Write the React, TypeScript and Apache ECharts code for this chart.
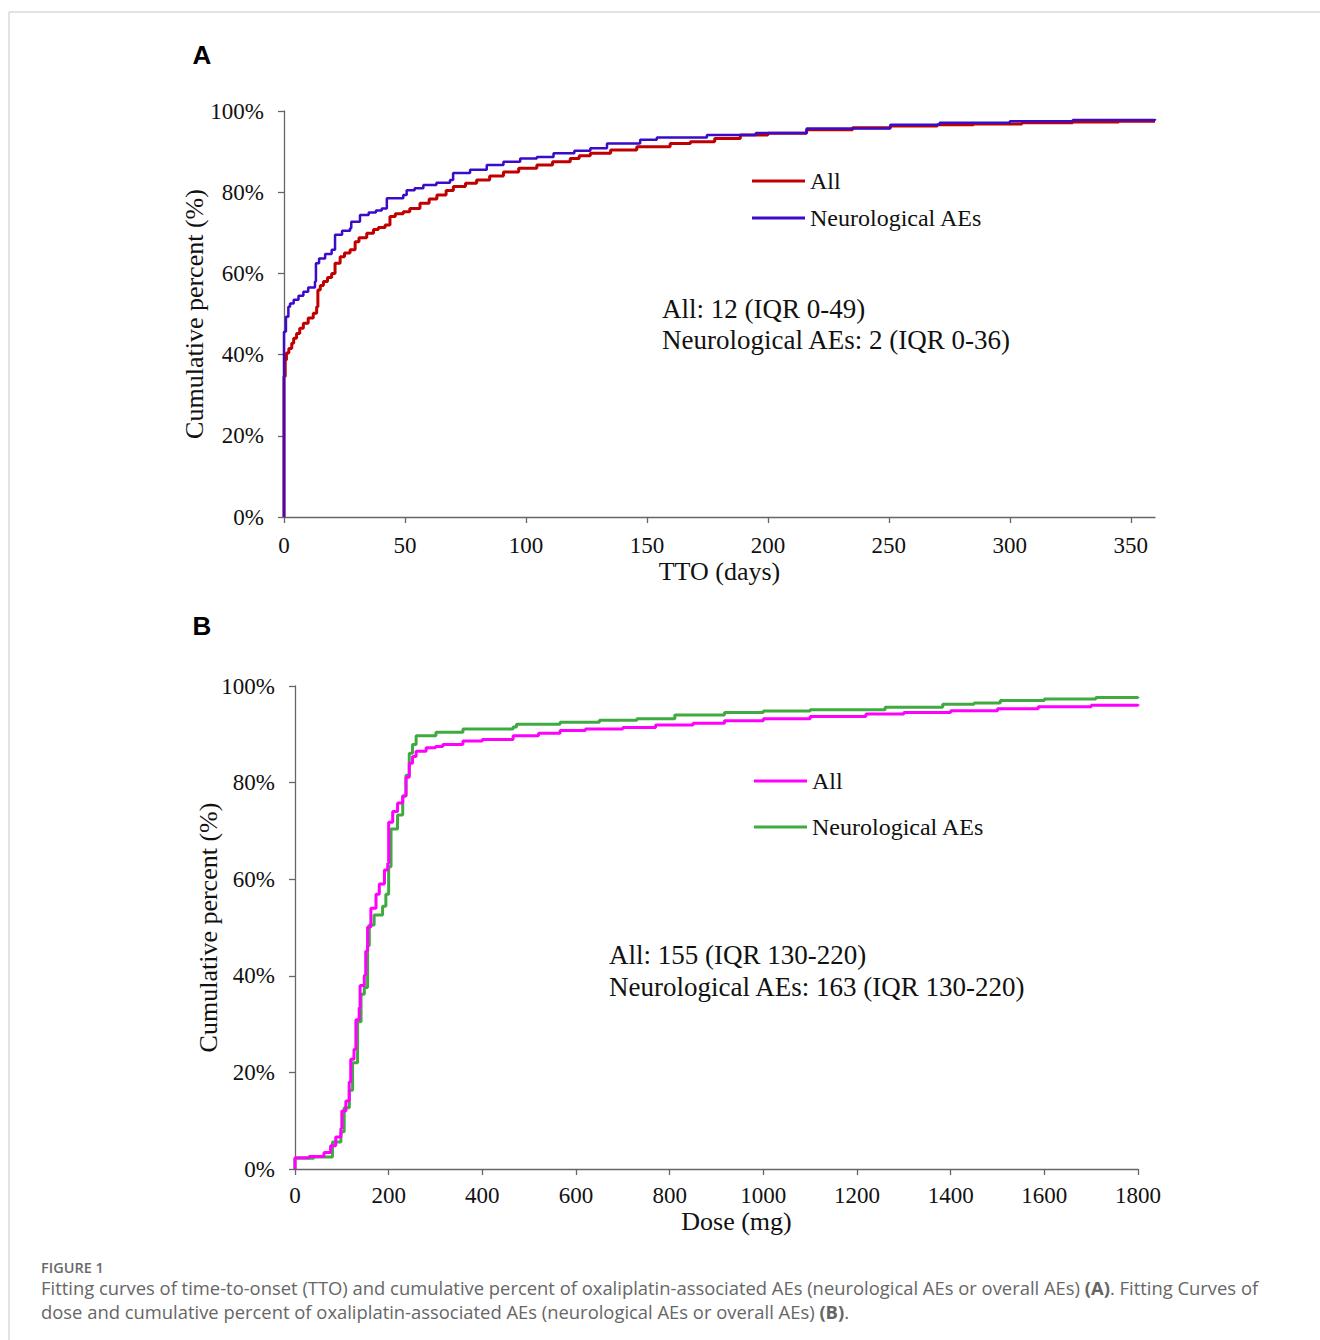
import React, { useEffect, useRef } from "react";
import * as echarts from "echarts";

// ---------- Data ----------
const PCT_TICKS = [0, 20, 40, 60, 80, 100];
const TTO_TICKS = [0, 50, 100, 150, 200, 250, 300, 350];
const DOSE_TICKS = [0, 200, 400, 600, 800, 1000, 1200, 1400, 1600, 1800];

const SERIES_NAMES = ["All", "Neurological AEs"];

// Panel A: time-to-onset (days) vs cumulative percent
const TTO_ALL_DAYS = [0, 0, 0.5, 1, 2, 3.2, 4, 5.2, 6.5, 8, 10, 12.1, 13.5, 14, 15, 16.3, 18, 19.7, 21.1, 23.2, 25, 27.3, 29.4, 31, 34.2, 37, 39, 41.8, 43.8, 46, 49.3, 52, 56.2, 60, 63.2, 67, 70, 75, 79.6, 85, 90.7, 97, 104.5, 111, 118.3, 122, 126.6, 135, 145.8, 159.6, 168, 178, 188.6, 200, 216, 235, 250.6, 270, 285, 305, 326, 345, 360];
const TTO_ALL_PCT = [0, 34.6, 38.7, 40.4, 41.5, 42.8, 44, 45.2, 46.5, 47.7, 49, 50.2, 51.8, 55.9, 57, 58, 59, 60, 62.5, 64.1, 65, 65.8, 67.8, 68.8, 69.9, 70.8, 71.3, 71.9, 74, 74.7, 75.2, 76, 77.3, 78.3, 79.3, 80.4, 81.4, 82.2, 83, 84, 85, 85.9, 86.7, 87.5, 88.3, 89, 89.6, 90.4, 91.2, 92, 92.4, 93.2, 94.1, 94.5, 95.4, 95.9, 96.3, 96.6, 96.8, 97.1, 97.3, 97.5, 97.6];

const TTO_NEURO_DAYS = [0, 0, 0.8, 1.8, 2.5, 4, 6, 8, 10, 12.8, 13.2, 14.5, 17, 19.7, 21.1, 24, 27.3, 27.8, 31.4, 35, 38, 40.4, 42.5, 49.3, 50.7, 54, 57.6, 63, 68.6, 69.9, 76.9, 83.8, 90.7, 97.6, 104.5, 111.4, 120, 126.6, 133.5, 147.2, 154.1, 174.8, 195, 216, 250.6, 271, 300, 326, 360];
const TTO_NEURO_PCT = [0, 45.6, 49.3, 51.8, 52.6, 53.5, 54.5, 55.5, 56.5, 58, 62.5, 63.7, 64.8, 65.8, 69.5, 70.5, 71.1, 72.7, 74.4, 75, 75.5, 76, 78.5, 79.3, 80.5, 81, 81.8, 82.3, 83, 84.7, 85.5, 86.7, 87.5, 88.3, 88.7, 89.6, 90.2, 90.8, 92, 92.9, 93.5, 94.1, 94.6, 95.7, 96.6, 97.1, 97.5, 97.8, 98];

// Panel B: dose (mg) vs cumulative percent
const DOSE_ALL_MG = [0, 0, 30, 62, 76, 87, 98, 100, 108.6, 115.7, 119, 126, 130, 137, 139, 148, 151, 155, 162, 173, 180, 191, 198, 200, 208.6, 219, 230, 237, 244, 251, 258.6, 280, 300, 315.7, 358.6, 400, 465.7, 520, 566, 620, 700, 770, 850, 917, 1000, 1100, 1219, 1300, 1400, 1500, 1587, 1700, 1800];
const DOSE_ALL_PCT = [0, 2.35, 2.6, 3.4, 4.8, 6.6, 8.4, 12, 14.1, 18, 22.7, 24.8, 30.9, 33.4, 38, 40.1, 45.1, 50.1, 54, 56.9, 59, 61.9, 63.3, 71.8, 74, 75.8, 77.2, 81.1, 84, 85.4, 86.5, 87.2, 87.5, 87.9, 88.6, 88.9, 89.7, 90.2, 90.8, 91.1, 91.4, 91.9, 92.3, 92.8, 93.2, 93.7, 94.2, 94.5, 94.9, 95.3, 95.7, 96, 96.2];

const DOSE_NEURO_MG = [0, 0, 40, 80, 98, 105, 116, 123, 133.6, 141, 148, 155, 158.6, 169, 187, 194, 200, 205, 219, 230, 237, 244, 251, 258.6, 301, 358.6, 465.7, 473, 566, 650, 730, 811, 917, 1000, 1100, 1260, 1383, 1450, 1506, 1600, 1710, 1800];
const DOSE_NEURO_PCT = [0, 2.2, 2.5, 5.6, 7.7, 12.7, 16.3, 22, 30.5, 36.2, 37.6, 46.2, 50.5, 52.6, 54.4, 56.9, 62.6, 70.4, 73.3, 77.2, 81.5, 86.1, 87.9, 89.7, 90.4, 91.1, 91.5, 92.1, 92.5, 92.9, 93.2, 94, 94.5, 94.8, 95.1, 95.6, 96.2, 96.5, 97, 97.3, 97.6, 97.8];

const NOTE_A = ["All: 12 (IQR 0-49)", "Neurological AEs: 2 (IQR 0-36)"];
const NOTE_B = ["All: 155 (IQR 130-220)", "Neurological AEs: 163 (IQR 130-220)"];

const CAPTION_HEAD = "FIGURE 1";
const CAPTION_1 = "Fitting curves of time-to-onset (TTO) and cumulative percent of oxaliplatin-associated AEs (neurological AEs or overall AEs) ";
const CAPTION_1B = "(A)";
const CAPTION_1C = ". Fitting Curves of";
const CAPTION_2 = "dose and cumulative percent of oxaliplatin-associated AEs (neurological AEs or overall AEs) ";
const CAPTION_2B = "(B)";
const CAPTION_2C = ".";

const zip = (xs: number[], ys: number[]) => xs.map((x, i) => [x, ys[i]]);

const SERIF = "Liberation Serif";
const CAP_FONT = "Open Sans";
const AXIS_COLOR = "#666";

export default function App() {
  const ref = useRef<HTMLDivElement>(null);

  useEffect(() => {
    if (!ref.current) return;
    const chart = echarts.init(ref.current, undefined, { renderer: "svg" });

    const tickRich = { t: { fontFamily: SERIF, fontSize: 23, lineHeight: 18, color: "#111" } };

    const yAxisBase = (gridIndex: number, nameGap: number) => ({
      type: "value",
      gridIndex,
      min: 0,
      max: 100,
      interval: 20,
      name: "Cumulative percent (%)",
      nameLocation: "middle",
      nameRotate: 90,
      nameGap,
      nameMoveOverlap: false,
      nameTextStyle: { fontFamily: SERIF, fontSize: 26, color: "#111" },
      axisLine: { show: true, lineStyle: { color: AXIS_COLOR, width: 1.3 } },
      axisTick: { show: true, inside: false, length: 6, customValues: PCT_TICKS, lineStyle: { color: AXIS_COLOR, width: 1.3 } },
      axisLabel: {
        customValues: PCT_TICKS,
        formatter: (v: number) => `{t|${v}%}`,
        rich: tickRich,
        margin: 20,
        fontFamily: SERIF,
        fontSize: 23,
        color: "#111",
      },
      splitLine: { show: false },
    });

    const xAxisBase = (gridIndex: number, max: number, interval: number, ticks: number[], name: string, nameGap: number, pad: number, labelMargin: number) => ({
      type: "value",
      gridIndex,
      min: 0,
      max,
      interval,
      name,
      nameLocation: "middle",
      nameGap,
      nameMoveOverlap: false,
      nameTextStyle: { fontFamily: SERIF, fontSize: 26, color: "#111", lineHeight: 26, padding: [0, 0, 0, pad] },
      axisLine: { show: true, onZero: false, lineStyle: { color: AXIS_COLOR, width: 1.3 } },
      axisTick: { show: true, inside: false, length: 6, customValues: ticks, lineStyle: { color: AXIS_COLOR, width: 1.3 } },
      axisLabel: {
        margin: labelMargin,
        customValues: ticks,
        formatter: (v: number) => `{t|${v}}`,
        rich: tickRich,
        fontFamily: SERIF,
        fontSize: 23,
        color: "#111",
      },
      splitLine: { show: false },
    });

    const line = (name: string, data: number[][], color: string, width: number, idx: number) => ({
      name,
      type: "line",
      step: "end",
      xAxisIndex: idx,
      yAxisIndex: idx,
      data,
      symbol: "none",
      showSymbol: false,
      lineStyle: { color, width },
      itemStyle: { color },
      silent: true,
    });

    const legendBase = (top: number, gap: number, names: string[]) => ({
      data: names,
      orient: "vertical",
      left: 752,
      top,
      padding: 0,
      itemGap: gap,
      itemWidth: 53,
      itemHeight: 3,
      icon: "rect",
      itemStyle: { borderWidth: 0 },
      textStyle: { fontFamily: SERIF, fontSize: 24, color: "#111", lineHeight: 24 },
      selectedMode: false,
    });

    const noteText = (x: number, y: number, text: string) => ({
      type: "text",
      x,
      y,
      style: { text, font: `27px "${SERIF}"`, fill: "#111", verticalAlign: "middle" },
    });

    const capRich = {
      n: { fontFamily: CAP_FONT, fontSize: 18.4, lineHeight: 20, fill: "#666" },
      b: { fontFamily: CAP_FONT, fontSize: 18.4, lineHeight: 20, fill: "#666", fontWeight: "bold" },
    };

    const option = {
      animation: false,
      backgroundColor: "#fff",
      textStyle: { fontFamily: SERIF },
      grid: [
        { left: 284, top: 111, width: 871, height: 406, containLabel: false },
        { left: 295, top: 686, width: 843, height: 483, containLabel: false },
      ],
      xAxis: [
        xAxisBase(0, 360, 50, TTO_TICKS, "TTO (days)", 41, 0, 19),
        xAxisBase(1, 1800, 200, DOSE_TICKS, "Dose (mg)", 39, 40, 17),
      ],
      yAxis: [yAxisBase(0, 77), yAxisBase(1, 74)],
      legend: [
        { ...legendBase(169, 13, SERIES_NAMES), id: "legA" },
        { ...legendBase(769, 22, SERIES_NAMES.map((n) => n + " ")), id: "legB", left: 754 },
      ],
      series: [
        line(SERIES_NAMES[0], zip(TTO_ALL_DAYS, TTO_ALL_PCT), "#C00000", 3, 0),
        line(SERIES_NAMES[1], zip(TTO_NEURO_DAYS, TTO_NEURO_PCT), "#3A0BC8", 2.5, 0),
        line(SERIES_NAMES[1] + " ", zip(DOSE_NEURO_MG, DOSE_NEURO_PCT), "#3FAA3F", 3, 1),
        line(SERIES_NAMES[0] + " ", zip(DOSE_ALL_MG, DOSE_ALL_PCT), "#FF00FF", 3, 1),
      ],
      graphic: [
        { type: "line", shape: { x1: 9, y1: 12, x2: 1320, y2: 12 }, style: { stroke: "#d9d9d9", lineWidth: 1.5 } },
        { type: "line", shape: { x1: 9, y1: 12, x2: 9, y2: 1340 }, style: { stroke: "#d9d9d9", lineWidth: 1.5 } },
        { type: "text", x: 202, y: 55, style: { text: "A", font: "bold 26px 'Liberation Sans', Arial, sans-serif", fill: "#000", align: "center", verticalAlign: "middle" } },
        { type: "text", x: 202, y: 626, style: { text: "B", font: "bold 26px 'Liberation Sans', Arial, sans-serif", fill: "#000", align: "center", verticalAlign: "middle" } },
        noteText(662, 309, NOTE_A[0]),
        noteText(662, 340, NOTE_A[1]),
        noteText(609, 955, NOTE_B[0]),
        noteText(609, 987, NOTE_B[1]),
        { type: "text", x: 41, y: 1267, style: { text: CAPTION_HEAD, font: `600 14.5px "${CAP_FONT}"`, fill: "#6a6a6a", verticalAlign: "middle" } },
        { type: "text", x: 41, y: 1287, style: { text: `{n|${CAPTION_1}}{b|${CAPTION_1B}}{n|${CAPTION_1C}}`, rich: capRich, verticalAlign: "middle" } },
        { type: "text", x: 41, y: 1311, style: { text: `{n|${CAPTION_2}}{b|${CAPTION_2B}}{n|${CAPTION_2C}}`, rich: capRich, verticalAlign: "middle" } },
      ],
    };

    chart.setOption(option as any);
    return () => chart.dispose();
  }, []);

  return (
    <div
      ref={ref}
      style={{ position: "absolute", left: 0, top: 0, width: 1320, height: 1340, background: "#fff" }}
    />
  );
}
